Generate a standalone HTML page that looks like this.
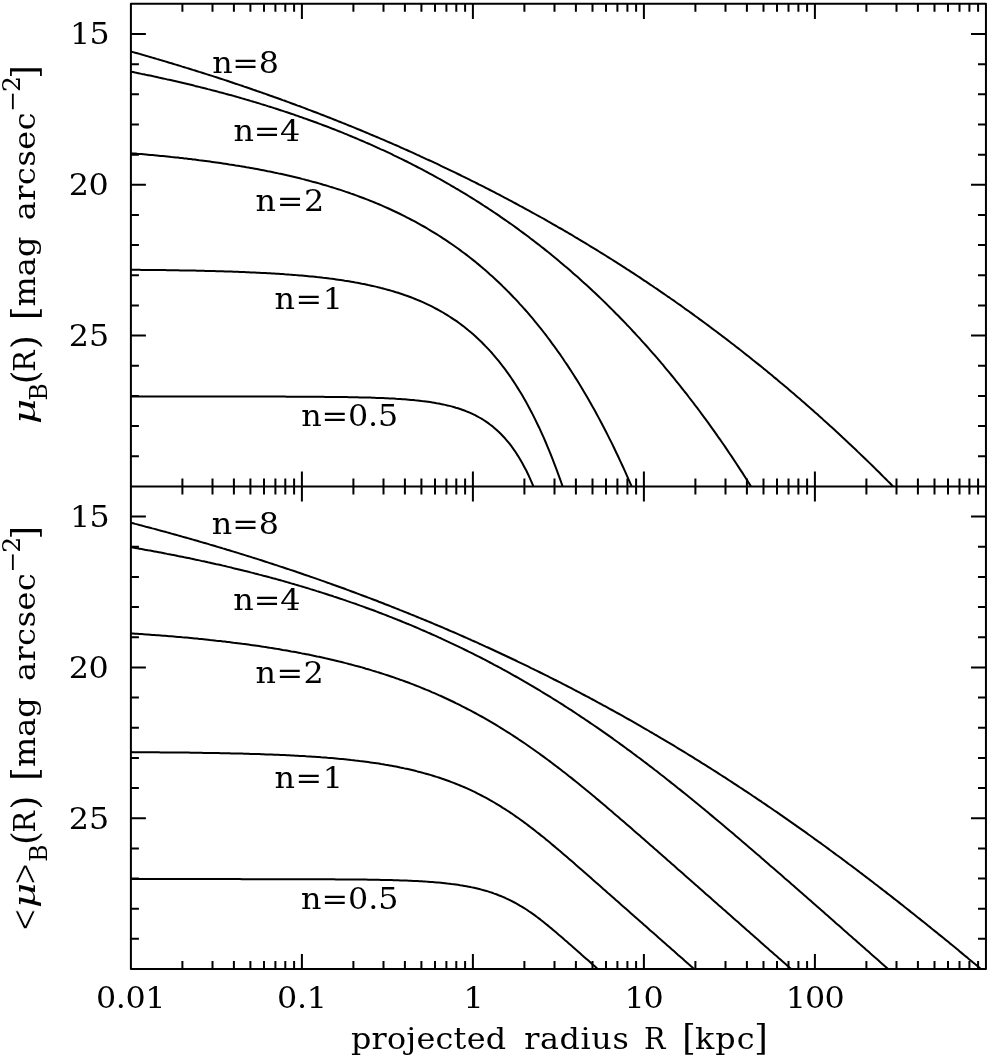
<!DOCTYPE html>
<html><head><meta charset="utf-8"><title>Sersic surface brightness profiles</title>
<style>
html,body{margin:0;padding:0;background:#fff}
svg{display:block}
text{font-family:"DejaVu Serif","Liberation Serif",serif;fill:#000;font-size:30px}.i{font-style:italic}.s{font-size:23.5px}.p{font-size:35.5px}.b{font-size:34.5px}.a{stroke:#fff;stroke-width:.7px}
</style></head>
<body>
<svg width="990" height="1060" viewBox="0 0 990 1060">
<rect width="990" height="1060" fill="#fff"/>
<g fill="none" stroke="#000" stroke-width="2" stroke-linecap="butt" stroke-linejoin="round">
<rect x="130.9" y="3.85" width="855.0500000000001" height="965.2"/>
<path d="M130.9 486.45 H985.95"/>
<path d="M182.4 3.9 V11.8 M182.4 478.4 V494.4 M182.4 961.0 V969.0 M212.5 3.9 V11.8 M212.5 478.4 V494.4 M212.5 961.0 V969.0 M233.9 3.9 V11.8 M233.9 478.4 V494.4 M233.9 961.0 V969.0 M250.4 3.9 V11.8 M250.4 478.4 V494.4 M250.4 961.0 V969.0 M264.0 3.9 V11.8 M264.0 478.4 V494.4 M264.0 961.0 V969.0 M275.4 3.9 V11.8 M275.4 478.4 V494.4 M275.4 961.0 V969.0 M285.3 3.9 V11.8 M285.3 478.4 V494.4 M285.3 961.0 V969.0 M294.1 3.9 V11.8 M294.1 478.4 V494.4 M294.1 961.0 V969.0 M301.9 3.9 V18.9 M301.9 471.4 V501.4 M301.9 954.0 V969.0 M353.4 3.9 V11.8 M353.4 478.4 V494.4 M353.4 961.0 V969.0 M383.5 3.9 V11.8 M383.5 478.4 V494.4 M383.5 961.0 V969.0 M404.9 3.9 V11.8 M404.9 478.4 V494.4 M404.9 961.0 V969.0 M421.4 3.9 V11.8 M421.4 478.4 V494.4 M421.4 961.0 V969.0 M435.0 3.9 V11.8 M435.0 478.4 V494.4 M435.0 961.0 V969.0 M446.4 3.9 V11.8 M446.4 478.4 V494.4 M446.4 961.0 V969.0 M456.3 3.9 V11.8 M456.3 478.4 V494.4 M456.3 961.0 V969.0 M465.1 3.9 V11.8 M465.1 478.4 V494.4 M465.1 961.0 V969.0 M472.9 3.9 V18.9 M472.9 471.4 V501.4 M472.9 954.0 V969.0 M524.4 3.9 V11.8 M524.4 478.4 V494.4 M524.4 961.0 V969.0 M554.5 3.9 V11.8 M554.5 478.4 V494.4 M554.5 961.0 V969.0 M575.9 3.9 V11.8 M575.9 478.4 V494.4 M575.9 961.0 V969.0 M592.5 3.9 V11.8 M592.5 478.4 V494.4 M592.5 961.0 V969.0 M606.0 3.9 V11.8 M606.0 478.4 V494.4 M606.0 961.0 V969.0 M617.4 3.9 V11.8 M617.4 478.4 V494.4 M617.4 961.0 V969.0 M627.4 3.9 V11.8 M627.4 478.4 V494.4 M627.4 961.0 V969.0 M636.1 3.9 V11.8 M636.1 478.4 V494.4 M636.1 961.0 V969.0 M643.9 3.9 V18.9 M643.9 471.4 V501.4 M643.9 954.0 V969.0 M695.4 3.9 V11.8 M695.4 478.4 V494.4 M695.4 961.0 V969.0 M725.5 3.9 V11.8 M725.5 478.4 V494.4 M725.5 961.0 V969.0 M746.9 3.9 V11.8 M746.9 478.4 V494.4 M746.9 961.0 V969.0 M763.5 3.9 V11.8 M763.5 478.4 V494.4 M763.5 961.0 V969.0 M777.0 3.9 V11.8 M777.0 478.4 V494.4 M777.0 961.0 V969.0 M788.5 3.9 V11.8 M788.5 478.4 V494.4 M788.5 961.0 V969.0 M798.4 3.9 V11.8 M798.4 478.4 V494.4 M798.4 961.0 V969.0 M807.1 3.9 V11.8 M807.1 478.4 V494.4 M807.1 961.0 V969.0 M814.9 3.9 V18.9 M814.9 471.4 V501.4 M814.9 954.0 V969.0 M866.4 3.9 V11.8 M866.4 478.4 V494.4 M866.4 961.0 V969.0 M896.5 3.9 V11.8 M896.5 478.4 V494.4 M896.5 961.0 V969.0 M917.9 3.9 V11.8 M917.9 478.4 V494.4 M917.9 961.0 V969.0 M934.5 3.9 V11.8 M934.5 478.4 V494.4 M934.5 961.0 V969.0 M948.0 3.9 V11.8 M948.0 478.4 V494.4 M948.0 961.0 V969.0 M959.5 3.9 V11.8 M959.5 478.4 V494.4 M959.5 961.0 V969.0 M969.4 3.9 V11.8 M969.4 478.4 V494.4 M969.4 961.0 V969.0 M978.1 3.9 V11.8 M978.1 478.4 V494.4 M978.1 961.0 V969.0 M130.9 34.0 H145.9 M971.0 34.0 H986.0 M130.9 64.2 H138.9 M978.0 64.2 H986.0 M130.9 94.3 H138.9 M978.0 94.3 H986.0 M130.9 124.5 H138.9 M978.0 124.5 H986.0 M130.9 154.7 H138.9 M978.0 154.7 H986.0 M130.9 184.8 H145.9 M971.0 184.8 H986.0 M130.9 215.0 H138.9 M978.0 215.0 H986.0 M130.9 245.1 H138.9 M978.0 245.1 H986.0 M130.9 275.3 H138.9 M978.0 275.3 H986.0 M130.9 305.5 H138.9 M978.0 305.5 H986.0 M130.9 335.6 H145.9 M971.0 335.6 H986.0 M130.9 365.8 H138.9 M978.0 365.8 H986.0 M130.9 395.9 H138.9 M978.0 395.9 H986.0 M130.9 426.1 H138.9 M978.0 426.1 H986.0 M130.9 456.2 H138.9 M978.0 456.2 H986.0 M130.9 516.6 H145.9 M971.0 516.6 H986.0 M130.9 546.8 H138.9 M978.0 546.8 H986.0 M130.9 576.9 H138.9 M978.0 576.9 H986.0 M130.9 607.1 H138.9 M978.0 607.1 H986.0 M130.9 637.2 H138.9 M978.0 637.2 H986.0 M130.9 667.4 H145.9 M971.0 667.4 H986.0 M130.9 697.6 H138.9 M978.0 697.6 H986.0 M130.9 727.7 H138.9 M978.0 727.7 H986.0 M130.9 757.9 H138.9 M978.0 757.9 H986.0 M130.9 788.0 H138.9 M978.0 788.0 H986.0 M130.9 818.2 H145.9 M971.0 818.2 H986.0 M130.9 848.4 H138.9 M978.0 848.4 H986.0 M130.9 878.5 H138.9 M978.0 878.5 H986.0 M130.9 908.7 H138.9 M978.0 908.7 H986.0 M130.9 938.8 H138.9 M978.0 938.8 H986.0"/>
</g>
<g fill="none" stroke="#000" stroke-width="2" stroke-linejoin="round">
<path d="M130.9 396.5 L133.0 396.5 L135.2 396.5 L137.3 396.5 L139.5 396.5 L141.6 396.5 L143.7 396.5 L145.9 396.5 L148.0 396.5 L150.1 396.5 L152.3 396.5 L154.4 396.5 L156.6 396.5 L158.7 396.5 L160.8 396.5 L163.0 396.5 L165.1 396.5 L167.2 396.5 L169.4 396.5 L171.5 396.5 L173.7 396.5 L175.8 396.5 L177.9 396.5 L180.1 396.5 L182.2 396.5 L184.3 396.5 L186.5 396.5 L188.6 396.5 L190.8 396.5 L192.9 396.5 L195.0 396.5 L197.2 396.5 L199.3 396.5 L201.4 396.5 L203.6 396.5 L205.7 396.5 L207.9 396.5 L210.0 396.5 L212.1 396.5 L214.3 396.5 L216.4 396.6 L218.5 396.6 L220.7 396.6 L222.8 396.6 L225.0 396.6 L227.1 396.6 L229.2 396.6 L231.4 396.6 L233.5 396.6 L235.6 396.6 L237.8 396.6 L239.9 396.6 L242.1 396.6 L244.2 396.6 L246.3 396.6 L248.5 396.6 L250.6 396.6 L252.7 396.6 L254.9 396.6 L257.0 396.6 L259.2 396.6 L261.3 396.6 L263.4 396.6 L265.6 396.6 L267.7 396.6 L269.8 396.6 L272.0 396.6 L274.1 396.6 L276.3 396.6 L278.4 396.6 L280.5 396.6 L282.7 396.6 L284.8 396.6 L286.9 396.7 L289.1 396.7 L291.2 396.7 L293.4 396.7 L295.5 396.7 L297.6 396.7 L299.8 396.7 L301.9 396.7 L304.0 396.7 L306.2 396.7 L308.3 396.7 L310.5 396.8 L312.6 396.8 L314.7 396.8 L316.9 396.8 L319.0 396.8 L321.1 396.8 L323.3 396.8 L325.4 396.9 L327.6 396.9 L329.7 396.9 L331.8 396.9 L334.0 397.0 L336.1 397.0 L338.2 397.0 L340.4 397.0 L342.5 397.1 L344.7 397.1 L346.8 397.1 L348.9 397.2 L351.1 397.2 L353.2 397.2 L355.4 397.3 L357.5 397.3 L359.6 397.4 L361.8 397.4 L363.9 397.5 L366.0 397.5 L368.2 397.6 L370.3 397.6 L372.5 397.7 L374.6 397.8 L376.7 397.9 L378.9 397.9 L381.0 398.0 L383.1 398.1 L385.3 398.2 L387.4 398.3 L389.6 398.4 L391.7 398.5 L393.8 398.6 L396.0 398.8 L398.1 398.9 L400.2 399.0 L402.4 399.2 L404.5 399.3 L406.7 399.5 L408.8 399.7 L410.9 399.9 L413.1 400.0 L415.2 400.3 L417.3 400.5 L419.5 400.7 L421.6 401.0 L423.8 401.2 L425.9 401.5 L428.0 401.8 L430.2 402.1 L432.3 402.4 L434.4 402.8 L436.6 403.2 L438.7 403.5 L440.9 404.0 L443.0 404.4 L445.1 404.9 L447.3 405.4 L449.4 405.9 L451.5 406.4 L453.7 407.0 L455.8 407.7 L458.0 408.3 L460.1 409.0 L462.2 409.7 L464.4 410.5 L466.5 411.4 L468.6 412.2 L470.8 413.2 L472.9 414.2 L475.1 415.2 L477.2 416.3 L479.3 417.5 L481.5 418.7 L483.6 420.0 L485.7 421.4 L487.9 422.9 L490.0 424.5 L492.2 426.1 L494.3 427.9 L496.4 429.7 L498.6 431.7 L500.7 433.8 L502.8 436.0 L505.0 438.3 L507.1 440.8 L509.3 443.4 L511.4 446.2 L513.5 449.1 L515.7 452.3 L517.8 455.6 L519.9 459.1 L522.1 462.8 L524.2 466.7 L526.4 470.8 L528.5 475.2 L530.6 479.9 L532.8 484.9 L533.4 486.4"/>
<path d="M130.9 269.8 L133.0 269.8 L135.2 269.8 L137.3 269.8 L139.5 269.8 L141.6 269.9 L143.7 269.9 L145.9 269.9 L148.0 269.9 L150.1 269.9 L152.3 270.0 L154.4 270.0 L156.6 270.0 L158.7 270.1 L160.8 270.1 L163.0 270.1 L165.1 270.1 L167.2 270.2 L169.4 270.2 L171.5 270.2 L173.7 270.3 L175.8 270.3 L177.9 270.3 L180.1 270.4 L182.2 270.4 L184.3 270.4 L186.5 270.5 L188.6 270.5 L190.8 270.6 L192.9 270.6 L195.0 270.6 L197.2 270.7 L199.3 270.7 L201.4 270.8 L203.6 270.8 L205.7 270.9 L207.9 270.9 L210.0 271.0 L212.1 271.0 L214.3 271.1 L216.4 271.2 L218.5 271.2 L220.7 271.3 L222.8 271.3 L225.0 271.4 L227.1 271.5 L229.2 271.5 L231.4 271.6 L233.5 271.7 L235.6 271.8 L237.8 271.8 L239.9 271.9 L242.1 272.0 L244.2 272.1 L246.3 272.2 L248.5 272.3 L250.6 272.4 L252.7 272.5 L254.9 272.6 L257.0 272.7 L259.2 272.8 L261.3 272.9 L263.4 273.0 L265.6 273.1 L267.7 273.2 L269.8 273.3 L272.0 273.5 L274.1 273.6 L276.3 273.7 L278.4 273.8 L280.5 274.0 L282.7 274.1 L284.8 274.3 L286.9 274.4 L289.1 274.6 L291.2 274.7 L293.4 274.9 L295.5 275.1 L297.6 275.2 L299.8 275.4 L301.9 275.6 L304.0 275.8 L306.2 276.0 L308.3 276.2 L310.5 276.4 L312.6 276.6 L314.7 276.8 L316.9 277.1 L319.0 277.3 L321.1 277.5 L323.3 277.8 L325.4 278.0 L327.6 278.3 L329.7 278.6 L331.8 278.8 L334.0 279.1 L336.1 279.4 L338.2 279.7 L340.4 280.0 L342.5 280.3 L344.7 280.7 L346.8 281.0 L348.9 281.3 L351.1 281.7 L353.2 282.1 L355.4 282.5 L357.5 282.8 L359.6 283.2 L361.8 283.7 L363.9 284.1 L366.0 284.5 L368.2 285.0 L370.3 285.4 L372.5 285.9 L374.6 286.4 L376.7 286.9 L378.9 287.4 L381.0 288.0 L383.1 288.5 L385.3 289.1 L387.4 289.7 L389.6 290.3 L391.7 290.9 L393.8 291.5 L396.0 292.2 L398.1 292.8 L400.2 293.5 L402.4 294.2 L404.5 295.0 L406.7 295.7 L408.8 296.5 L410.9 297.3 L413.1 298.1 L415.2 299.0 L417.3 299.9 L419.5 300.8 L421.6 301.7 L423.8 302.6 L425.9 303.6 L428.0 304.6 L430.2 305.7 L432.3 306.7 L434.4 307.8 L436.6 309.0 L438.7 310.1 L440.9 311.3 L443.0 312.5 L445.1 313.8 L447.3 315.1 L449.4 316.5 L451.5 317.8 L453.7 319.3 L455.8 320.7 L458.0 322.2 L460.1 323.8 L462.2 325.4 L464.4 327.0 L466.5 328.7 L468.6 330.5 L470.8 332.3 L472.9 334.1 L475.1 336.0 L477.2 338.0 L479.3 340.0 L481.5 342.0 L483.6 344.2 L485.7 346.4 L487.9 348.6 L490.0 350.9 L492.2 353.3 L494.3 355.8 L496.4 358.3 L498.6 360.9 L500.7 363.6 L502.8 366.4 L505.0 369.2 L507.1 372.1 L509.3 375.1 L511.4 378.2 L513.5 381.4 L515.7 384.7 L517.8 388.1 L519.9 391.5 L522.1 395.1 L524.2 398.8 L526.4 402.6 L528.5 406.5 L530.6 410.5 L532.8 414.6 L534.9 418.9 L537.0 423.2 L539.2 427.7 L541.3 432.4 L543.5 437.1 L545.6 442.0 L547.7 447.1 L549.9 452.3 L552.0 457.6 L554.1 463.1 L556.3 468.8 L558.4 474.6 L560.6 480.6 L562.6 486.4"/>
<path d="M130.9 153.2 L133.0 153.4 L135.2 153.6 L137.3 153.8 L139.5 153.9 L141.6 154.1 L143.7 154.3 L145.9 154.5 L148.0 154.7 L150.1 154.9 L152.3 155.1 L154.4 155.3 L156.6 155.5 L158.7 155.7 L160.8 155.9 L163.0 156.1 L165.1 156.3 L167.2 156.5 L169.4 156.7 L171.5 157.0 L173.7 157.2 L175.8 157.4 L177.9 157.6 L180.1 157.9 L182.2 158.1 L184.3 158.4 L186.5 158.6 L188.6 158.9 L190.8 159.1 L192.9 159.4 L195.0 159.6 L197.2 159.9 L199.3 160.2 L201.4 160.4 L203.6 160.7 L205.7 161.0 L207.9 161.3 L210.0 161.6 L212.1 161.9 L214.3 162.2 L216.4 162.5 L218.5 162.8 L220.7 163.1 L222.8 163.4 L225.0 163.7 L227.1 164.0 L229.2 164.4 L231.4 164.7 L233.5 165.0 L235.6 165.4 L237.8 165.7 L239.9 166.1 L242.1 166.4 L244.2 166.8 L246.3 167.2 L248.5 167.5 L250.6 167.9 L252.7 168.3 L254.9 168.7 L257.0 169.1 L259.2 169.5 L261.3 169.9 L263.4 170.3 L265.6 170.7 L267.7 171.2 L269.8 171.6 L272.0 172.0 L274.1 172.5 L276.3 172.9 L278.4 173.4 L280.5 173.8 L282.7 174.3 L284.8 174.8 L286.9 175.3 L289.1 175.8 L291.2 176.3 L293.4 176.8 L295.5 177.3 L297.6 177.8 L299.8 178.3 L301.9 178.9 L304.0 179.4 L306.2 180.0 L308.3 180.5 L310.5 181.1 L312.6 181.7 L314.7 182.2 L316.9 182.8 L319.0 183.4 L321.1 184.0 L323.3 184.7 L325.4 185.3 L327.6 185.9 L329.7 186.6 L331.8 187.2 L334.0 187.9 L336.1 188.6 L338.2 189.3 L340.4 189.9 L342.5 190.6 L344.7 191.4 L346.8 192.1 L348.9 192.8 L351.1 193.6 L353.2 194.3 L355.4 195.1 L357.5 195.9 L359.6 196.7 L361.8 197.5 L363.9 198.3 L366.0 199.1 L368.2 199.9 L370.3 200.8 L372.5 201.6 L374.6 202.5 L376.7 203.4 L378.9 204.3 L381.0 205.2 L383.1 206.1 L385.3 207.1 L387.4 208.0 L389.6 209.0 L391.7 210.0 L393.8 211.0 L396.0 212.0 L398.1 213.0 L400.2 214.0 L402.4 215.1 L404.5 216.2 L406.7 217.3 L408.8 218.4 L410.9 219.5 L413.1 220.6 L415.2 221.7 L417.3 222.9 L419.5 224.1 L421.6 225.3 L423.8 226.5 L425.9 227.7 L428.0 229.0 L430.2 230.3 L432.3 231.6 L434.4 232.9 L436.6 234.2 L438.7 235.5 L440.9 236.9 L443.0 238.3 L445.1 239.7 L447.3 241.1 L449.4 242.6 L451.5 244.0 L453.7 245.5 L455.8 247.0 L458.0 248.5 L460.1 250.1 L462.2 251.7 L464.4 253.3 L466.5 254.9 L468.6 256.5 L470.8 258.2 L472.9 259.9 L475.1 261.6 L477.2 263.4 L479.3 265.1 L481.5 266.9 L483.6 268.8 L485.7 270.6 L487.9 272.5 L490.0 274.4 L492.2 276.3 L494.3 278.3 L496.4 280.2 L498.6 282.3 L500.7 284.3 L502.8 286.4 L505.0 288.5 L507.1 290.6 L509.3 292.8 L511.4 295.0 L513.5 297.2 L515.7 299.4 L517.8 301.7 L519.9 304.1 L522.1 306.4 L524.2 308.8 L526.4 311.2 L528.5 313.7 L530.6 316.2 L532.8 318.7 L534.9 321.3 L537.0 323.9 L539.2 326.6 L541.3 329.2 L543.5 332.0 L545.6 334.7 L547.7 337.5 L549.9 340.4 L552.0 343.3 L554.1 346.2 L556.3 349.1 L558.4 352.2 L560.6 355.2 L562.7 358.3 L564.8 361.5 L567.0 364.6 L569.1 367.9 L571.3 371.2 L573.4 374.5 L575.5 377.9 L577.7 381.3 L579.8 384.8 L581.9 388.3 L584.1 391.9 L586.2 395.5 L588.4 399.2 L590.5 402.9 L592.6 406.7 L594.8 410.6 L596.9 414.5 L599.0 418.4 L601.2 422.5 L603.3 426.5 L605.5 430.7 L607.6 434.9 L609.7 439.1 L611.9 443.4 L614.0 447.8 L616.1 452.2 L618.3 456.8 L620.4 461.3 L622.6 466.0 L624.7 470.7 L626.8 475.4 L629.0 480.3 L631.1 485.2 L631.6 486.4"/>
<path d="M130.9 71.7 L133.0 72.1 L135.2 72.6 L137.3 73.0 L139.5 73.4 L141.6 73.9 L143.7 74.3 L145.9 74.8 L148.0 75.2 L150.1 75.6 L152.3 76.1 L154.4 76.6 L156.6 77.0 L158.7 77.5 L160.8 77.9 L163.0 78.4 L165.1 78.9 L167.2 79.4 L169.4 79.8 L171.5 80.3 L173.7 80.8 L175.8 81.3 L177.9 81.8 L180.1 82.3 L182.2 82.8 L184.3 83.3 L186.5 83.8 L188.6 84.3 L190.8 84.8 L192.9 85.3 L195.0 85.9 L197.2 86.4 L199.3 86.9 L201.4 87.5 L203.6 88.0 L205.7 88.5 L207.9 89.1 L210.0 89.6 L212.1 90.2 L214.3 90.7 L216.4 91.3 L218.5 91.9 L220.7 92.4 L222.8 93.0 L225.0 93.6 L227.1 94.2 L229.2 94.8 L231.4 95.3 L233.5 95.9 L235.6 96.5 L237.8 97.1 L239.9 97.7 L242.1 98.4 L244.2 99.0 L246.3 99.6 L248.5 100.2 L250.6 100.9 L252.7 101.5 L254.9 102.1 L257.0 102.8 L259.2 103.4 L261.3 104.1 L263.4 104.7 L265.6 105.4 L267.7 106.1 L269.8 106.7 L272.0 107.4 L274.1 108.1 L276.3 108.8 L278.4 109.5 L280.5 110.2 L282.7 110.9 L284.8 111.6 L286.9 112.3 L289.1 113.0 L291.2 113.7 L293.4 114.4 L295.5 115.2 L297.6 115.9 L299.8 116.7 L301.9 117.4 L304.0 118.2 L306.2 118.9 L308.3 119.7 L310.5 120.5 L312.6 121.2 L314.7 122.0 L316.9 122.8 L319.0 123.6 L321.1 124.4 L323.3 125.2 L325.4 126.0 L327.6 126.8 L329.7 127.6 L331.8 128.5 L334.0 129.3 L336.1 130.1 L338.2 131.0 L340.4 131.8 L342.5 132.7 L344.7 133.6 L346.8 134.4 L348.9 135.3 L351.1 136.2 L353.2 137.1 L355.4 138.0 L357.5 138.9 L359.6 139.8 L361.8 140.7 L363.9 141.6 L366.0 142.6 L368.2 143.5 L370.3 144.4 L372.5 145.4 L374.6 146.3 L376.7 147.3 L378.9 148.3 L381.0 149.3 L383.1 150.2 L385.3 151.2 L387.4 152.2 L389.6 153.2 L391.7 154.2 L393.8 155.3 L396.0 156.3 L398.1 157.3 L400.2 158.4 L402.4 159.4 L404.5 160.5 L406.7 161.5 L408.8 162.6 L410.9 163.7 L413.1 164.8 L415.2 165.9 L417.3 167.0 L419.5 168.1 L421.6 169.2 L423.8 170.3 L425.9 171.5 L428.0 172.6 L430.2 173.8 L432.3 174.9 L434.4 176.1 L436.6 177.3 L438.7 178.5 L440.9 179.7 L443.0 180.9 L445.1 182.1 L447.3 183.3 L449.4 184.5 L451.5 185.8 L453.7 187.0 L455.8 188.3 L458.0 189.5 L460.1 190.8 L462.2 192.1 L464.4 193.4 L466.5 194.7 L468.6 196.0 L470.8 197.3 L472.9 198.7 L475.1 200.0 L477.2 201.3 L479.3 202.7 L481.5 204.1 L483.6 205.5 L485.7 206.8 L487.9 208.2 L490.0 209.7 L492.2 211.1 L494.3 212.5 L496.4 213.9 L498.6 215.4 L500.7 216.9 L502.8 218.3 L505.0 219.8 L507.1 221.3 L509.3 222.8 L511.4 224.3 L513.5 225.8 L515.7 227.4 L517.8 228.9 L519.9 230.5 L522.1 232.1 L524.2 233.6 L526.4 235.2 L528.5 236.8 L530.6 238.5 L532.8 240.1 L534.9 241.7 L537.0 243.4 L539.2 245.0 L541.3 246.7 L543.5 248.4 L545.6 250.1 L547.7 251.8 L549.9 253.5 L552.0 255.3 L554.1 257.0 L556.3 258.8 L558.4 260.6 L560.6 262.4 L562.7 264.2 L564.8 266.0 L567.0 267.8 L569.1 269.6 L571.3 271.5 L573.4 273.4 L575.5 275.2 L577.7 277.1 L579.8 279.0 L581.9 281.0 L584.1 282.9 L586.2 284.8 L588.4 286.8 L590.5 288.8 L592.6 290.8 L594.8 292.8 L596.9 294.8 L599.0 296.8 L601.2 298.9 L603.3 300.9 L605.5 303.0 L607.6 305.1 L609.7 307.2 L611.9 309.4 L614.0 311.5 L616.1 313.7 L618.3 315.8 L620.4 318.0 L622.6 320.2 L624.7 322.4 L626.8 324.7 L629.0 326.9 L631.1 329.2 L633.2 331.5 L635.4 333.8 L637.5 336.1 L639.7 338.4 L641.8 340.8 L643.9 343.1 L646.1 345.5 L648.2 347.9 L650.3 350.3 L652.5 352.8 L654.6 355.2 L656.8 357.7 L658.9 360.2 L661.0 362.7 L663.2 365.2 L665.3 367.8 L667.4 370.3 L669.6 372.9 L671.7 375.5 L673.9 378.1 L676.0 380.8 L678.1 383.4 L680.3 386.1 L682.4 388.8 L684.5 391.5 L686.7 394.2 L688.8 397.0 L691.0 399.8 L693.1 402.5 L695.2 405.4 L697.4 408.2 L699.5 411.0 L701.6 413.9 L703.8 416.8 L705.9 419.7 L708.1 422.7 L710.2 425.6 L712.3 428.6 L714.5 431.6 L716.6 434.6 L718.7 437.7 L720.9 440.7 L723.0 443.8 L725.2 446.9 L727.3 450.1 L729.4 453.2 L731.6 456.4 L733.7 459.6 L735.8 462.8 L738.0 466.1 L740.1 469.4 L742.3 472.6 L744.4 476.0 L746.5 479.3 L748.7 482.7 L750.8 486.1 L751.0 486.4"/>
<path d="M130.9 51.5 L133.0 52.1 L135.2 52.7 L137.3 53.3 L139.5 53.9 L141.6 54.5 L143.7 55.1 L145.9 55.8 L148.0 56.4 L150.1 57.0 L152.3 57.6 L154.4 58.2 L156.6 58.9 L158.7 59.5 L160.8 60.1 L163.0 60.8 L165.1 61.4 L167.2 62.0 L169.4 62.7 L171.5 63.3 L173.7 64.0 L175.8 64.6 L177.9 65.2 L180.1 65.9 L182.2 66.6 L184.3 67.2 L186.5 67.9 L188.6 68.5 L190.8 69.2 L192.9 69.9 L195.0 70.5 L197.2 71.2 L199.3 71.9 L201.4 72.5 L203.6 73.2 L205.7 73.9 L207.9 74.6 L210.0 75.3 L212.1 75.9 L214.3 76.6 L216.4 77.3 L218.5 78.0 L220.7 78.7 L222.8 79.4 L225.0 80.1 L227.1 80.8 L229.2 81.5 L231.4 82.2 L233.5 83.0 L235.6 83.7 L237.8 84.4 L239.9 85.1 L242.1 85.8 L244.2 86.6 L246.3 87.3 L248.5 88.0 L250.6 88.7 L252.7 89.5 L254.9 90.2 L257.0 91.0 L259.2 91.7 L261.3 92.4 L263.4 93.2 L265.6 93.9 L267.7 94.7 L269.8 95.5 L272.0 96.2 L274.1 97.0 L276.3 97.7 L278.4 98.5 L280.5 99.3 L282.7 100.1 L284.8 100.8 L286.9 101.6 L289.1 102.4 L291.2 103.2 L293.4 104.0 L295.5 104.8 L297.6 105.6 L299.8 106.3 L301.9 107.1 L304.0 107.9 L306.2 108.8 L308.3 109.6 L310.5 110.4 L312.6 111.2 L314.7 112.0 L316.9 112.8 L319.0 113.6 L321.1 114.5 L323.3 115.3 L325.4 116.1 L327.6 117.0 L329.7 117.8 L331.8 118.6 L334.0 119.5 L336.1 120.3 L338.2 121.2 L340.4 122.0 L342.5 122.9 L344.7 123.7 L346.8 124.6 L348.9 125.5 L351.1 126.3 L353.2 127.2 L355.4 128.1 L357.5 129.0 L359.6 129.8 L361.8 130.7 L363.9 131.6 L366.0 132.5 L368.2 133.4 L370.3 134.3 L372.5 135.2 L374.6 136.1 L376.7 137.0 L378.9 137.9 L381.0 138.8 L383.1 139.7 L385.3 140.7 L387.4 141.6 L389.6 142.5 L391.7 143.4 L393.8 144.4 L396.0 145.3 L398.1 146.2 L400.2 147.2 L402.4 148.1 L404.5 149.1 L406.7 150.0 L408.8 151.0 L410.9 151.9 L413.1 152.9 L415.2 153.9 L417.3 154.9 L419.5 155.8 L421.6 156.8 L423.8 157.8 L425.9 158.8 L428.0 159.8 L430.2 160.7 L432.3 161.7 L434.4 162.7 L436.6 163.7 L438.7 164.7 L440.9 165.8 L443.0 166.8 L445.1 167.8 L447.3 168.8 L449.4 169.8 L451.5 170.9 L453.7 171.9 L455.8 172.9 L458.0 174.0 L460.1 175.0 L462.2 176.1 L464.4 177.1 L466.5 178.2 L468.6 179.2 L470.8 180.3 L472.9 181.3 L475.1 182.4 L477.2 183.5 L479.3 184.6 L481.5 185.6 L483.6 186.7 L485.7 187.8 L487.9 188.9 L490.0 190.0 L492.2 191.1 L494.3 192.2 L496.4 193.3 L498.6 194.4 L500.7 195.5 L502.8 196.7 L505.0 197.8 L507.1 198.9 L509.3 200.1 L511.4 201.2 L513.5 202.3 L515.7 203.5 L517.8 204.6 L519.9 205.8 L522.1 206.9 L524.2 208.1 L526.4 209.3 L528.5 210.4 L530.6 211.6 L532.8 212.8 L534.9 214.0 L537.0 215.2 L539.2 216.3 L541.3 217.5 L543.5 218.7 L545.6 219.9 L547.7 221.2 L549.9 222.4 L552.0 223.6 L554.1 224.8 L556.3 226.0 L558.4 227.3 L560.6 228.5 L562.7 229.7 L564.8 231.0 L567.0 232.2 L569.1 233.5 L571.3 234.7 L573.4 236.0 L575.5 237.3 L577.7 238.5 L579.8 239.8 L581.9 241.1 L584.1 242.4 L586.2 243.7 L588.4 245.0 L590.5 246.3 L592.6 247.6 L594.8 248.9 L596.9 250.2 L599.0 251.5 L601.2 252.8 L603.3 254.1 L605.5 255.5 L607.6 256.8 L609.7 258.2 L611.9 259.5 L614.0 260.8 L616.1 262.2 L618.3 263.6 L620.4 264.9 L622.6 266.3 L624.7 267.7 L626.8 269.1 L629.0 270.4 L631.1 271.8 L633.2 273.2 L635.4 274.6 L637.5 276.0 L639.7 277.4 L641.8 278.9 L643.9 280.3 L646.1 281.7 L648.2 283.1 L650.3 284.6 L652.5 286.0 L654.6 287.5 L656.8 288.9 L658.9 290.4 L661.0 291.8 L663.2 293.3 L665.3 294.8 L667.4 296.3 L669.6 297.7 L671.7 299.2 L673.9 300.7 L676.0 302.2 L678.1 303.7 L680.3 305.2 L682.4 306.7 L684.5 308.3 L686.7 309.8 L688.8 311.3 L691.0 312.9 L693.1 314.4 L695.2 316.0 L697.4 317.5 L699.5 319.1 L701.6 320.6 L703.8 322.2 L705.9 323.8 L708.1 325.4 L710.2 327.0 L712.3 328.6 L714.5 330.2 L716.6 331.8 L718.7 333.4 L720.9 335.0 L723.0 336.6 L725.2 338.2 L727.3 339.9 L729.4 341.5 L731.6 343.2 L733.7 344.8 L735.8 346.5 L738.0 348.1 L740.1 349.8 L742.3 351.5 L744.4 353.2 L746.5 354.9 L748.7 356.5 L750.8 358.2 L752.9 360.0 L755.1 361.7 L757.2 363.4 L759.4 365.1 L761.5 366.8 L763.6 368.6 L765.8 370.3 L767.9 372.1 L770.0 373.8 L772.2 375.6 L774.3 377.4 L776.5 379.1 L778.6 380.9 L780.7 382.7 L782.9 384.5 L785.0 386.3 L787.2 388.1 L789.3 389.9 L791.4 391.8 L793.6 393.6 L795.7 395.4 L797.8 397.3 L800.0 399.1 L802.1 401.0 L804.3 402.8 L806.4 404.7 L808.5 406.6 L810.7 408.4 L812.8 410.3 L814.9 412.2 L817.1 414.1 L819.2 416.0 L821.4 417.9 L823.5 419.9 L825.6 421.8 L827.8 423.7 L829.9 425.7 L832.0 427.6 L834.2 429.6 L836.3 431.5 L838.5 433.5 L840.6 435.5 L842.7 437.5 L844.9 439.5 L847.0 441.5 L849.1 443.5 L851.3 445.5 L853.4 447.5 L855.6 449.5 L857.7 451.6 L859.8 453.6 L862.0 455.7 L864.1 457.7 L866.2 459.8 L868.4 461.9 L870.5 463.9 L872.7 466.0 L874.8 468.1 L876.9 470.2 L879.1 472.3 L881.2 474.5 L883.3 476.6 L885.5 478.7 L887.6 480.9 L889.8 483.0 L891.9 485.2 L893.1 486.4"/>
<path d="M130.9 879.1 L133.0 879.1 L135.2 879.1 L137.3 879.1 L139.5 879.1 L141.6 879.1 L143.7 879.1 L145.9 879.1 L148.0 879.1 L150.1 879.1 L152.3 879.1 L154.4 879.1 L156.6 879.1 L158.7 879.1 L160.8 879.1 L163.0 879.1 L165.1 879.1 L167.2 879.1 L169.4 879.1 L171.5 879.1 L173.7 879.1 L175.8 879.1 L177.9 879.1 L180.1 879.1 L182.2 879.1 L184.3 879.1 L186.5 879.1 L188.6 879.1 L190.8 879.1 L192.9 879.1 L195.0 879.1 L197.2 879.1 L199.3 879.1 L201.4 879.1 L203.6 879.1 L205.7 879.1 L207.9 879.1 L210.0 879.1 L212.1 879.1 L214.3 879.1 L216.4 879.1 L218.5 879.1 L220.7 879.1 L222.8 879.1 L225.0 879.1 L227.1 879.1 L229.2 879.1 L231.4 879.1 L233.5 879.1 L235.6 879.1 L237.8 879.1 L239.9 879.1 L242.1 879.2 L244.2 879.2 L246.3 879.2 L248.5 879.2 L250.6 879.2 L252.7 879.2 L254.9 879.2 L257.0 879.2 L259.2 879.2 L261.3 879.2 L263.4 879.2 L265.6 879.2 L267.7 879.2 L269.8 879.2 L272.0 879.2 L274.1 879.2 L276.3 879.2 L278.4 879.2 L280.5 879.2 L282.7 879.2 L284.8 879.2 L286.9 879.2 L289.1 879.2 L291.2 879.2 L293.4 879.2 L295.5 879.2 L297.6 879.2 L299.8 879.2 L301.9 879.2 L304.0 879.2 L306.2 879.2 L308.3 879.2 L310.5 879.2 L312.6 879.3 L314.7 879.3 L316.9 879.3 L319.0 879.3 L321.1 879.3 L323.3 879.3 L325.4 879.3 L327.6 879.3 L329.7 879.3 L331.8 879.3 L334.0 879.3 L336.1 879.4 L338.2 879.4 L340.4 879.4 L342.5 879.4 L344.7 879.4 L346.8 879.4 L348.9 879.4 L351.1 879.5 L353.2 879.5 L355.4 879.5 L357.5 879.5 L359.6 879.5 L361.8 879.6 L363.9 879.6 L366.0 879.6 L368.2 879.7 L370.3 879.7 L372.5 879.7 L374.6 879.8 L376.7 879.8 L378.9 879.8 L381.0 879.9 L383.1 879.9 L385.3 880.0 L387.4 880.0 L389.6 880.1 L391.7 880.1 L393.8 880.2 L396.0 880.2 L398.1 880.3 L400.2 880.4 L402.4 880.4 L404.5 880.5 L406.7 880.6 L408.8 880.7 L410.9 880.8 L413.1 880.9 L415.2 881.0 L417.3 881.1 L419.5 881.2 L421.6 881.3 L423.8 881.4 L425.9 881.6 L428.0 881.7 L430.2 881.9 L432.3 882.0 L434.4 882.2 L436.6 882.4 L438.7 882.6 L440.9 882.8 L443.0 883.0 L445.1 883.2 L447.3 883.5 L449.4 883.7 L451.5 884.0 L453.7 884.2 L455.8 884.5 L458.0 884.8 L460.1 885.2 L462.2 885.5 L464.4 885.9 L466.5 886.3 L468.6 886.7 L470.8 887.1 L472.9 887.6 L475.1 888.0 L477.2 888.5 L479.3 889.0 L481.5 889.6 L483.6 890.2 L485.7 890.8 L487.9 891.4 L490.0 892.1 L492.2 892.8 L494.3 893.6 L496.4 894.3 L498.6 895.2 L500.7 896.0 L502.8 896.9 L505.0 897.8 L507.1 898.8 L509.3 899.8 L511.4 900.9 L513.5 902.0 L515.7 903.1 L517.8 904.3 L519.9 905.6 L522.1 906.8 L524.2 908.2 L526.4 909.5 L528.5 911.0 L530.6 912.4 L532.8 913.9 L534.9 915.4 L537.0 917.0 L539.2 918.6 L541.3 920.3 L543.5 922.0 L545.6 923.7 L547.7 925.4 L549.9 927.2 L552.0 928.9 L554.1 930.7 L556.3 932.6 L558.4 934.4 L560.6 936.2 L562.7 938.1 L564.8 940.0 L567.0 941.8 L569.1 943.7 L571.3 945.6 L573.4 947.4 L575.5 949.3 L577.7 951.2 L579.8 953.1 L581.9 955.0 L584.1 956.9 L586.2 958.7 L588.4 960.6 L590.5 962.5 L592.6 964.4 L594.8 966.3 L596.9 968.2 L597.9 969.0"/>
<path d="M130.9 752.1 L133.0 752.2 L135.2 752.2 L137.3 752.2 L139.5 752.2 L141.6 752.2 L143.7 752.2 L145.9 752.2 L148.0 752.3 L150.1 752.3 L152.3 752.3 L154.4 752.3 L156.6 752.3 L158.7 752.3 L160.8 752.4 L163.0 752.4 L165.1 752.4 L167.2 752.4 L169.4 752.4 L171.5 752.5 L173.7 752.5 L175.8 752.5 L177.9 752.5 L180.1 752.5 L182.2 752.6 L184.3 752.6 L186.5 752.6 L188.6 752.6 L190.8 752.7 L192.9 752.7 L195.0 752.7 L197.2 752.8 L199.3 752.8 L201.4 752.8 L203.6 752.9 L205.7 752.9 L207.9 752.9 L210.0 753.0 L212.1 753.0 L214.3 753.0 L216.4 753.1 L218.5 753.1 L220.7 753.2 L222.8 753.2 L225.0 753.2 L227.1 753.3 L229.2 753.3 L231.4 753.4 L233.5 753.4 L235.6 753.5 L237.8 753.5 L239.9 753.6 L242.1 753.6 L244.2 753.7 L246.3 753.7 L248.5 753.8 L250.6 753.9 L252.7 753.9 L254.9 754.0 L257.0 754.1 L259.2 754.1 L261.3 754.2 L263.4 754.3 L265.6 754.4 L267.7 754.4 L269.8 754.5 L272.0 754.6 L274.1 754.7 L276.3 754.8 L278.4 754.8 L280.5 754.9 L282.7 755.0 L284.8 755.1 L286.9 755.2 L289.1 755.3 L291.2 755.4 L293.4 755.5 L295.5 755.7 L297.6 755.8 L299.8 755.9 L301.9 756.0 L304.0 756.1 L306.2 756.3 L308.3 756.4 L310.5 756.5 L312.6 756.7 L314.7 756.8 L316.9 757.0 L319.0 757.1 L321.1 757.3 L323.3 757.4 L325.4 757.6 L327.6 757.8 L329.7 757.9 L331.8 758.1 L334.0 758.3 L336.1 758.5 L338.2 758.7 L340.4 758.9 L342.5 759.1 L344.7 759.3 L346.8 759.5 L348.9 759.7 L351.1 760.0 L353.2 760.2 L355.4 760.5 L357.5 760.7 L359.6 761.0 L361.8 761.2 L363.9 761.5 L366.0 761.8 L368.2 762.1 L370.3 762.4 L372.5 762.7 L374.6 763.0 L376.7 763.3 L378.9 763.6 L381.0 764.0 L383.1 764.3 L385.3 764.7 L387.4 765.0 L389.6 765.4 L391.7 765.8 L393.8 766.2 L396.0 766.6 L398.1 767.0 L400.2 767.5 L402.4 767.9 L404.5 768.4 L406.7 768.8 L408.8 769.3 L410.9 769.8 L413.1 770.3 L415.2 770.8 L417.3 771.4 L419.5 771.9 L421.6 772.5 L423.8 773.1 L425.9 773.7 L428.0 774.3 L430.2 774.9 L432.3 775.5 L434.4 776.2 L436.6 776.9 L438.7 777.5 L440.9 778.3 L443.0 779.0 L445.1 779.7 L447.3 780.5 L449.4 781.3 L451.5 782.1 L453.7 782.9 L455.8 783.7 L458.0 784.6 L460.1 785.5 L462.2 786.4 L464.4 787.3 L466.5 788.2 L468.6 789.2 L470.8 790.2 L472.9 791.2 L475.1 792.2 L477.2 793.3 L479.3 794.4 L481.5 795.5 L483.6 796.6 L485.7 797.7 L487.9 798.9 L490.0 800.1 L492.2 801.3 L494.3 802.5 L496.4 803.8 L498.6 805.1 L500.7 806.4 L502.8 807.8 L505.0 809.1 L507.1 810.5 L509.3 811.9 L511.4 813.3 L513.5 814.8 L515.7 816.3 L517.8 817.8 L519.9 819.3 L522.1 820.8 L524.2 822.4 L526.4 824.0 L528.5 825.6 L530.6 827.2 L532.8 828.9 L534.9 830.5 L537.0 832.2 L539.2 833.9 L541.3 835.6 L543.5 837.3 L545.6 839.1 L547.7 840.8 L549.9 842.6 L552.0 844.4 L554.1 846.1 L556.3 847.9 L558.4 849.8 L560.6 851.6 L562.7 853.4 L564.8 855.2 L567.0 857.1 L569.1 858.9 L571.3 860.8 L573.4 862.6 L575.5 864.5 L577.7 866.4 L579.8 868.2 L581.9 870.1 L584.1 872.0 L586.2 873.8 L588.4 875.7 L590.5 877.6 L592.6 879.5 L594.8 881.4 L596.9 883.2 L599.0 885.1 L601.2 887.0 L603.3 888.9 L605.5 890.8 L607.6 892.7 L609.7 894.5 L611.9 896.4 L614.0 898.3 L616.1 900.2 L618.3 902.1 L620.4 904.0 L622.6 905.9 L624.7 907.7 L626.8 909.6 L629.0 911.5 L631.1 913.4 L633.2 915.3 L635.4 917.2 L637.5 919.1 L639.7 920.9 L641.8 922.8 L643.9 924.7 L646.1 926.6 L648.2 928.5 L650.3 930.4 L652.5 932.2 L654.6 934.1 L656.8 936.0 L658.9 937.9 L661.0 939.8 L663.2 941.7 L665.3 943.6 L667.4 945.4 L669.6 947.3 L671.7 949.2 L673.9 951.1 L676.0 953.0 L678.1 954.9 L680.3 956.8 L682.4 958.6 L684.5 960.5 L686.7 962.4 L688.8 964.3 L691.0 966.2 L693.1 968.1 L694.2 969.0"/>
<path d="M130.9 633.4 L133.0 633.5 L135.2 633.7 L137.3 633.8 L139.5 634.0 L141.6 634.1 L143.7 634.2 L145.9 634.4 L148.0 634.5 L150.1 634.7 L152.3 634.9 L154.4 635.0 L156.6 635.2 L158.7 635.3 L160.8 635.5 L163.0 635.7 L165.1 635.8 L167.2 636.0 L169.4 636.2 L171.5 636.3 L173.7 636.5 L175.8 636.7 L177.9 636.9 L180.1 637.1 L182.2 637.3 L184.3 637.4 L186.5 637.6 L188.6 637.8 L190.8 638.0 L192.9 638.2 L195.0 638.4 L197.2 638.6 L199.3 638.9 L201.4 639.1 L203.6 639.3 L205.7 639.5 L207.9 639.7 L210.0 640.0 L212.1 640.2 L214.3 640.4 L216.4 640.7 L218.5 640.9 L220.7 641.1 L222.8 641.4 L225.0 641.6 L227.1 641.9 L229.2 642.1 L231.4 642.4 L233.5 642.7 L235.6 642.9 L237.8 643.2 L239.9 643.5 L242.1 643.8 L244.2 644.0 L246.3 644.3 L248.5 644.6 L250.6 644.9 L252.7 645.2 L254.9 645.5 L257.0 645.8 L259.2 646.1 L261.3 646.4 L263.4 646.8 L265.6 647.1 L267.7 647.4 L269.8 647.8 L272.0 648.1 L274.1 648.4 L276.3 648.8 L278.4 649.1 L280.5 649.5 L282.7 649.9 L284.8 650.2 L286.9 650.6 L289.1 651.0 L291.2 651.4 L293.4 651.7 L295.5 652.1 L297.6 652.5 L299.8 652.9 L301.9 653.4 L304.0 653.8 L306.2 654.2 L308.3 654.6 L310.5 655.1 L312.6 655.5 L314.7 655.9 L316.9 656.4 L319.0 656.8 L321.1 657.3 L323.3 657.8 L325.4 658.3 L327.6 658.7 L329.7 659.2 L331.8 659.7 L334.0 660.2 L336.1 660.7 L338.2 661.3 L340.4 661.8 L342.5 662.3 L344.7 662.9 L346.8 663.4 L348.9 664.0 L351.1 664.5 L353.2 665.1 L355.4 665.7 L357.5 666.2 L359.6 666.8 L361.8 667.4 L363.9 668.0 L366.0 668.7 L368.2 669.3 L370.3 669.9 L372.5 670.6 L374.6 671.2 L376.7 671.9 L378.9 672.5 L381.0 673.2 L383.1 673.9 L385.3 674.6 L387.4 675.3 L389.6 676.0 L391.7 676.7 L393.8 677.4 L396.0 678.2 L398.1 678.9 L400.2 679.7 L402.4 680.4 L404.5 681.2 L406.7 682.0 L408.8 682.8 L410.9 683.6 L413.1 684.4 L415.2 685.3 L417.3 686.1 L419.5 686.9 L421.6 687.8 L423.8 688.7 L425.9 689.6 L428.0 690.4 L430.2 691.3 L432.3 692.3 L434.4 693.2 L436.6 694.1 L438.7 695.1 L440.9 696.0 L443.0 697.0 L445.1 698.0 L447.3 699.0 L449.4 700.0 L451.5 701.0 L453.7 702.0 L455.8 703.1 L458.0 704.1 L460.1 705.2 L462.2 706.3 L464.4 707.4 L466.5 708.5 L468.6 709.6 L470.8 710.7 L472.9 711.8 L475.1 713.0 L477.2 714.2 L479.3 715.3 L481.5 716.5 L483.6 717.7 L485.7 718.9 L487.9 720.2 L490.0 721.4 L492.2 722.7 L494.3 723.9 L496.4 725.2 L498.6 726.5 L500.7 727.8 L502.8 729.1 L505.0 730.5 L507.1 731.8 L509.3 733.2 L511.4 734.5 L513.5 735.9 L515.7 737.3 L517.8 738.7 L519.9 740.2 L522.1 741.6 L524.2 743.0 L526.4 744.5 L528.5 746.0 L530.6 747.5 L532.8 749.0 L534.9 750.5 L537.0 752.0 L539.2 753.5 L541.3 755.1 L543.5 756.6 L545.6 758.2 L547.7 759.8 L549.9 761.4 L552.0 763.0 L554.1 764.6 L556.3 766.2 L558.4 767.9 L560.6 769.5 L562.7 771.2 L564.8 772.8 L567.0 774.5 L569.1 776.2 L571.3 777.9 L573.4 779.6 L575.5 781.3 L577.7 783.0 L579.8 784.7 L581.9 786.5 L584.1 788.2 L586.2 790.0 L588.4 791.7 L590.5 793.5 L592.6 795.3 L594.8 797.1 L596.9 798.9 L599.0 800.6 L601.2 802.4 L603.3 804.3 L605.5 806.1 L607.6 807.9 L609.7 809.7 L611.9 811.5 L614.0 813.4 L616.1 815.2 L618.3 817.0 L620.4 818.9 L622.6 820.7 L624.7 822.6 L626.8 824.4 L629.0 826.3 L631.1 828.1 L633.2 830.0 L635.4 831.9 L637.5 833.7 L639.7 835.6 L641.8 837.5 L643.9 839.3 L646.1 841.2 L648.2 843.1 L650.3 844.9 L652.5 846.8 L654.6 848.7 L656.8 850.6 L658.9 852.4 L661.0 854.3 L663.2 856.2 L665.3 858.1 L667.4 860.0 L669.6 861.8 L671.7 863.7 L673.9 865.6 L676.0 867.5 L678.1 869.4 L680.3 871.3 L682.4 873.1 L684.5 875.0 L686.7 876.9 L688.8 878.8 L691.0 880.7 L693.1 882.6 L695.2 884.4 L697.4 886.3 L699.5 888.2 L701.6 890.1 L703.8 892.0 L705.9 893.9 L708.1 895.8 L710.2 897.6 L712.3 899.5 L714.5 901.4 L716.6 903.3 L718.7 905.2 L720.9 907.1 L723.0 909.0 L725.2 910.8 L727.3 912.7 L729.4 914.6 L731.6 916.5 L733.7 918.4 L735.8 920.3 L738.0 922.1 L740.1 924.0 L742.3 925.9 L744.4 927.8 L746.5 929.7 L748.7 931.6 L750.8 933.5 L752.9 935.3 L755.1 937.2 L757.2 939.1 L759.4 941.0 L761.5 942.9 L763.6 944.8 L765.8 946.7 L767.9 948.5 L770.0 950.4 L772.2 952.3 L774.3 954.2 L776.5 956.1 L778.6 958.0 L780.7 959.8 L782.9 961.7 L785.0 963.6 L787.2 965.5 L789.3 967.4 L791.1 969.0"/>
<path d="M130.9 547.2 L133.0 547.6 L135.2 548.0 L137.3 548.3 L139.5 548.7 L141.6 549.1 L143.7 549.5 L145.9 549.9 L148.0 550.3 L150.1 550.6 L152.3 551.0 L154.4 551.4 L156.6 551.8 L158.7 552.2 L160.8 552.6 L163.0 553.0 L165.1 553.4 L167.2 553.9 L169.4 554.3 L171.5 554.7 L173.7 555.1 L175.8 555.5 L177.9 556.0 L180.1 556.4 L182.2 556.8 L184.3 557.3 L186.5 557.7 L188.6 558.1 L190.8 558.6 L192.9 559.0 L195.0 559.5 L197.2 559.9 L199.3 560.4 L201.4 560.9 L203.6 561.3 L205.7 561.8 L207.9 562.3 L210.0 562.7 L212.1 563.2 L214.3 563.7 L216.4 564.2 L218.5 564.6 L220.7 565.1 L222.8 565.6 L225.0 566.1 L227.1 566.6 L229.2 567.1 L231.4 567.6 L233.5 568.2 L235.6 568.7 L237.8 569.2 L239.9 569.7 L242.1 570.2 L244.2 570.8 L246.3 571.3 L248.5 571.8 L250.6 572.4 L252.7 572.9 L254.9 573.5 L257.0 574.0 L259.2 574.6 L261.3 575.1 L263.4 575.7 L265.6 576.2 L267.7 576.8 L269.8 577.4 L272.0 578.0 L274.1 578.6 L276.3 579.1 L278.4 579.7 L280.5 580.3 L282.7 580.9 L284.8 581.5 L286.9 582.1 L289.1 582.7 L291.2 583.4 L293.4 584.0 L295.5 584.6 L297.6 585.2 L299.8 585.9 L301.9 586.5 L304.0 587.1 L306.2 587.8 L308.3 588.4 L310.5 589.1 L312.6 589.7 L314.7 590.4 L316.9 591.1 L319.0 591.7 L321.1 592.4 L323.3 593.1 L325.4 593.8 L327.6 594.5 L329.7 595.2 L331.8 595.8 L334.0 596.6 L336.1 597.3 L338.2 598.0 L340.4 598.7 L342.5 599.4 L344.7 600.1 L346.8 600.9 L348.9 601.6 L351.1 602.4 L353.2 603.1 L355.4 603.8 L357.5 604.6 L359.6 605.4 L361.8 606.1 L363.9 606.9 L366.0 607.7 L368.2 608.5 L370.3 609.3 L372.5 610.0 L374.6 610.8 L376.7 611.6 L378.9 612.5 L381.0 613.3 L383.1 614.1 L385.3 614.9 L387.4 615.7 L389.6 616.6 L391.7 617.4 L393.8 618.3 L396.0 619.1 L398.1 620.0 L400.2 620.8 L402.4 621.7 L404.5 622.6 L406.7 623.5 L408.8 624.3 L410.9 625.2 L413.1 626.1 L415.2 627.0 L417.3 627.9 L419.5 628.9 L421.6 629.8 L423.8 630.7 L425.9 631.6 L428.0 632.6 L430.2 633.5 L432.3 634.5 L434.4 635.4 L436.6 636.4 L438.7 637.4 L440.9 638.3 L443.0 639.3 L445.1 640.3 L447.3 641.3 L449.4 642.3 L451.5 643.3 L453.7 644.3 L455.8 645.3 L458.0 646.3 L460.1 647.4 L462.2 648.4 L464.4 649.5 L466.5 650.5 L468.6 651.6 L470.8 652.6 L472.9 653.7 L475.1 654.8 L477.2 655.9 L479.3 656.9 L481.5 658.0 L483.6 659.1 L485.7 660.2 L487.9 661.4 L490.0 662.5 L492.2 663.6 L494.3 664.8 L496.4 665.9 L498.6 667.0 L500.7 668.2 L502.8 669.4 L505.0 670.5 L507.1 671.7 L509.3 672.9 L511.4 674.1 L513.5 675.3 L515.7 676.5 L517.8 677.7 L519.9 678.9 L522.1 680.1 L524.2 681.4 L526.4 682.6 L528.5 683.9 L530.6 685.1 L532.8 686.4 L534.9 687.6 L537.0 688.9 L539.2 690.2 L541.3 691.5 L543.5 692.8 L545.6 694.1 L547.7 695.4 L549.9 696.7 L552.0 698.0 L554.1 699.4 L556.3 700.7 L558.4 702.0 L560.6 703.4 L562.7 704.7 L564.8 706.1 L567.0 707.5 L569.1 708.9 L571.3 710.2 L573.4 711.6 L575.5 713.0 L577.7 714.5 L579.8 715.9 L581.9 717.3 L584.1 718.7 L586.2 720.2 L588.4 721.6 L590.5 723.1 L592.6 724.5 L594.8 726.0 L596.9 727.4 L599.0 728.9 L601.2 730.4 L603.3 731.9 L605.5 733.4 L607.6 734.9 L609.7 736.4 L611.9 737.9 L614.0 739.5 L616.1 741.0 L618.3 742.5 L620.4 744.1 L622.6 745.6 L624.7 747.2 L626.8 748.8 L629.0 750.3 L631.1 751.9 L633.2 753.5 L635.4 755.1 L637.5 756.7 L639.7 758.3 L641.8 759.9 L643.9 761.5 L646.1 763.1 L648.2 764.8 L650.3 766.4 L652.5 768.0 L654.6 769.7 L656.8 771.3 L658.9 773.0 L661.0 774.7 L663.2 776.3 L665.3 778.0 L667.4 779.7 L669.6 781.4 L671.7 783.1 L673.9 784.8 L676.0 786.5 L678.1 788.2 L680.3 789.9 L682.4 791.6 L684.5 793.3 L686.7 795.1 L688.8 796.8 L691.0 798.5 L693.1 800.3 L695.2 802.0 L697.4 803.8 L699.5 805.5 L701.6 807.3 L703.8 809.0 L705.9 810.8 L708.1 812.6 L710.2 814.4 L712.3 816.1 L714.5 817.9 L716.6 819.7 L718.7 821.5 L720.9 823.3 L723.0 825.1 L725.2 826.9 L727.3 828.7 L729.4 830.5 L731.6 832.3 L733.7 834.1 L735.8 835.9 L738.0 837.8 L740.1 839.6 L742.3 841.4 L744.4 843.2 L746.5 845.1 L748.7 846.9 L750.8 848.7 L752.9 850.6 L755.1 852.4 L757.2 854.3 L759.4 856.1 L761.5 858.0 L763.6 859.8 L765.8 861.7 L767.9 863.5 L770.0 865.4 L772.2 867.2 L774.3 869.1 L776.5 870.9 L778.6 872.8 L780.7 874.6 L782.9 876.5 L785.0 878.4 L787.2 880.2 L789.3 882.1 L791.4 884.0 L793.6 885.8 L795.7 887.7 L797.8 889.6 L800.0 891.5 L802.1 893.3 L804.3 895.2 L806.4 897.1 L808.5 898.9 L810.7 900.8 L812.8 902.7 L814.9 904.6 L817.1 906.5 L819.2 908.3 L821.4 910.2 L823.5 912.1 L825.6 914.0 L827.8 915.8 L829.9 917.7 L832.0 919.6 L834.2 921.5 L836.3 923.4 L838.5 925.2 L840.6 927.1 L842.7 929.0 L844.9 930.9 L847.0 932.8 L849.1 934.7 L851.3 936.5 L853.4 938.4 L855.6 940.3 L857.7 942.2 L859.8 944.1 L862.0 946.0 L864.1 947.8 L866.2 949.7 L868.4 951.6 L870.5 953.5 L872.7 955.4 L874.8 957.3 L876.9 959.1 L879.1 961.0 L881.2 962.9 L883.3 964.8 L885.5 966.7 L887.6 968.6 L888.1 969.0"/>
<path d="M130.9 522.7 L133.0 523.3 L135.2 523.9 L137.3 524.4 L139.5 525.0 L141.6 525.5 L143.7 526.1 L145.9 526.7 L148.0 527.2 L150.1 527.8 L152.3 528.4 L154.4 528.9 L156.6 529.5 L158.7 530.1 L160.8 530.7 L163.0 531.3 L165.1 531.8 L167.2 532.4 L169.4 533.0 L171.5 533.6 L173.7 534.2 L175.8 534.8 L177.9 535.4 L180.1 536.0 L182.2 536.6 L184.3 537.2 L186.5 537.8 L188.6 538.4 L190.8 539.0 L192.9 539.6 L195.0 540.2 L197.2 540.8 L199.3 541.5 L201.4 542.1 L203.6 542.7 L205.7 543.3 L207.9 543.9 L210.0 544.6 L212.1 545.2 L214.3 545.8 L216.4 546.5 L218.5 547.1 L220.7 547.7 L222.8 548.4 L225.0 549.0 L227.1 549.7 L229.2 550.3 L231.4 551.0 L233.5 551.6 L235.6 552.3 L237.8 552.9 L239.9 553.6 L242.1 554.3 L244.2 554.9 L246.3 555.6 L248.5 556.3 L250.6 556.9 L252.7 557.6 L254.9 558.3 L257.0 558.9 L259.2 559.6 L261.3 560.3 L263.4 561.0 L265.6 561.7 L267.7 562.4 L269.8 563.1 L272.0 563.8 L274.1 564.5 L276.3 565.1 L278.4 565.9 L280.5 566.6 L282.7 567.3 L284.8 568.0 L286.9 568.7 L289.1 569.4 L291.2 570.1 L293.4 570.8 L295.5 571.5 L297.6 572.3 L299.8 573.0 L301.9 573.7 L304.0 574.5 L306.2 575.2 L308.3 575.9 L310.5 576.7 L312.6 577.4 L314.7 578.1 L316.9 578.9 L319.0 579.6 L321.1 580.4 L323.3 581.1 L325.4 581.9 L327.6 582.7 L329.7 583.4 L331.8 584.2 L334.0 585.0 L336.1 585.7 L338.2 586.5 L340.4 587.3 L342.5 588.0 L344.7 588.8 L346.8 589.6 L348.9 590.4 L351.1 591.2 L353.2 592.0 L355.4 592.8 L357.5 593.6 L359.6 594.4 L361.8 595.2 L363.9 596.0 L366.0 596.8 L368.2 597.6 L370.3 598.4 L372.5 599.2 L374.6 600.0 L376.7 600.8 L378.9 601.7 L381.0 602.5 L383.1 603.3 L385.3 604.2 L387.4 605.0 L389.6 605.8 L391.7 606.7 L393.8 607.5 L396.0 608.4 L398.1 609.2 L400.2 610.1 L402.4 610.9 L404.5 611.8 L406.7 612.6 L408.8 613.5 L410.9 614.4 L413.1 615.2 L415.2 616.1 L417.3 617.0 L419.5 617.9 L421.6 618.7 L423.8 619.6 L425.9 620.5 L428.0 621.4 L430.2 622.3 L432.3 623.2 L434.4 624.1 L436.6 625.0 L438.7 625.9 L440.9 626.8 L443.0 627.7 L445.1 628.6 L447.3 629.5 L449.4 630.5 L451.5 631.4 L453.7 632.3 L455.8 633.2 L458.0 634.2 L460.1 635.1 L462.2 636.0 L464.4 637.0 L466.5 637.9 L468.6 638.9 L470.8 639.8 L472.9 640.8 L475.1 641.7 L477.2 642.7 L479.3 643.7 L481.5 644.6 L483.6 645.6 L485.7 646.6 L487.9 647.5 L490.0 648.5 L492.2 649.5 L494.3 650.5 L496.4 651.5 L498.6 652.5 L500.7 653.5 L502.8 654.5 L505.0 655.5 L507.1 656.5 L509.3 657.5 L511.4 658.5 L513.5 659.5 L515.7 660.5 L517.8 661.6 L519.9 662.6 L522.1 663.6 L524.2 664.6 L526.4 665.7 L528.5 666.7 L530.6 667.8 L532.8 668.8 L534.9 669.9 L537.0 670.9 L539.2 672.0 L541.3 673.0 L543.5 674.1 L545.6 675.2 L547.7 676.2 L549.9 677.3 L552.0 678.4 L554.1 679.5 L556.3 680.5 L558.4 681.6 L560.6 682.7 L562.7 683.8 L564.8 684.9 L567.0 686.0 L569.1 687.1 L571.3 688.2 L573.4 689.3 L575.5 690.5 L577.7 691.6 L579.8 692.7 L581.9 693.8 L584.1 695.0 L586.2 696.1 L588.4 697.2 L590.5 698.4 L592.6 699.5 L594.8 700.7 L596.9 701.8 L599.0 703.0 L601.2 704.1 L603.3 705.3 L605.5 706.4 L607.6 707.6 L609.7 708.8 L611.9 710.0 L614.0 711.1 L616.1 712.3 L618.3 713.5 L620.4 714.7 L622.6 715.9 L624.7 717.1 L626.8 718.3 L629.0 719.5 L631.1 720.7 L633.2 721.9 L635.4 723.2 L637.5 724.4 L639.7 725.6 L641.8 726.8 L643.9 728.1 L646.1 729.3 L648.2 730.5 L650.3 731.8 L652.5 733.0 L654.6 734.3 L656.8 735.5 L658.9 736.8 L661.0 738.1 L663.2 739.3 L665.3 740.6 L667.4 741.9 L669.6 743.1 L671.7 744.4 L673.9 745.7 L676.0 747.0 L678.1 748.3 L680.3 749.6 L682.4 750.9 L684.5 752.2 L686.7 753.5 L688.8 754.8 L691.0 756.1 L693.1 757.4 L695.2 758.8 L697.4 760.1 L699.5 761.4 L701.6 762.8 L703.8 764.1 L705.9 765.4 L708.1 766.8 L710.2 768.1 L712.3 769.5 L714.5 770.9 L716.6 772.2 L718.7 773.6 L720.9 775.0 L723.0 776.3 L725.2 777.7 L727.3 779.1 L729.4 780.5 L731.6 781.9 L733.7 783.3 L735.8 784.7 L738.0 786.1 L740.1 787.5 L742.3 788.9 L744.4 790.3 L746.5 791.7 L748.7 793.1 L750.8 794.5 L752.9 796.0 L755.1 797.4 L757.2 798.8 L759.4 800.3 L761.5 801.7 L763.6 803.2 L765.8 804.6 L767.9 806.1 L770.0 807.5 L772.2 809.0 L774.3 810.5 L776.5 811.9 L778.6 813.4 L780.7 814.9 L782.9 816.4 L785.0 817.9 L787.2 819.4 L789.3 820.9 L791.4 822.4 L793.6 823.9 L795.7 825.4 L797.8 826.9 L800.0 828.4 L802.1 829.9 L804.3 831.4 L806.4 832.9 L808.5 834.5 L810.7 836.0 L812.8 837.5 L814.9 839.1 L817.1 840.6 L819.2 842.2 L821.4 843.7 L823.5 845.3 L825.6 846.8 L827.8 848.4 L829.9 850.0 L832.0 851.5 L834.2 853.1 L836.3 854.7 L838.5 856.3 L840.6 857.8 L842.7 859.4 L844.9 861.0 L847.0 862.6 L849.1 864.2 L851.3 865.8 L853.4 867.4 L855.6 869.0 L857.7 870.6 L859.8 872.3 L862.0 873.9 L864.1 875.5 L866.2 877.1 L868.4 878.8 L870.5 880.4 L872.7 882.0 L874.8 883.7 L876.9 885.3 L879.1 887.0 L881.2 888.6 L883.3 890.3 L885.5 891.9 L887.6 893.6 L889.8 895.2 L891.9 896.9 L894.0 898.6 L896.2 900.3 L898.3 901.9 L900.4 903.6 L902.6 905.3 L904.7 907.0 L906.9 908.7 L909.0 910.4 L911.1 912.1 L913.3 913.8 L915.4 915.5 L917.5 917.2 L919.7 918.9 L921.8 920.6 L924.0 922.3 L926.1 924.0 L928.2 925.7 L930.4 927.4 L932.5 929.2 L934.6 930.9 L936.8 932.6 L938.9 934.4 L941.1 936.1 L943.2 937.8 L945.3 939.6 L947.5 941.3 L949.6 943.1 L951.7 944.8 L953.9 946.6 L956.0 948.3 L958.2 950.1 L960.3 951.9 L962.4 953.6 L964.6 955.4 L966.7 957.1 L968.8 958.9 L971.0 960.7 L973.1 962.5 L975.3 964.2 L977.4 966.0 L979.5 967.8 L981.0 969.0"/>
</g>
<g>
<text transform="translate(69.9 44.3) scale(1.06 1)" letter-spacing="-0.49">15</text>
<text transform="translate(68.8 195.1) scale(1.06 1)" letter-spacing="-0.42">20</text>
<text transform="translate(68.8 345.9) scale(1.06 1)" letter-spacing="-0.04">25</text>
<text transform="translate(69.9 526.9) scale(1.06 1)" letter-spacing="-0.49">15</text>
<text transform="translate(68.8 677.7) scale(1.06 1)" letter-spacing="-0.42">20</text>
<text transform="translate(68.8 828.5) scale(1.06 1)" letter-spacing="-0.04">25</text>
<text transform="translate(95.9 1008.0) scale(1.06 1)" letter-spacing="-0.36">0.01</text>
<text transform="translate(276.9 1008.0) scale(1.06 1)" letter-spacing="-0.22">0.1</text>
<text transform="translate(463.4 1008.0) scale(1.06 1)">1</text>
<text transform="translate(624.6 1008.0) scale(1.06 1)" letter-spacing="-1.15">10</text>
<text transform="translate(785.8 1008.0) scale(1.06 1)" letter-spacing="-0.88">100</text>
<text transform="translate(350.9 1048.5) scale(1.06 1)" letter-spacing="0.24">projected</text>
<text transform="translate(524.2 1048.5) scale(1.06 1)" letter-spacing="0.59">radius</text>
<text transform="translate(644.1 1048.5) scale(0.95 1)">R</text>
<text transform="translate(682.2 1049.7)" class="b">[</text>
<text transform="translate(694.9 1048.5) scale(1.06 1)" letter-spacing="1.08">kpc</text>
<text transform="translate(754.2 1049.7)" class="b">]</text>
<text transform="translate(212.2 72.8) scale(1.06 1)" letter-spacing="-0.31">n=8</text>
<text transform="translate(233.6 140.7) scale(1.06 1)" letter-spacing="-0.31">n=4</text>
<text transform="translate(255.5 210.8) scale(1.06 1)" letter-spacing="0.66">n=2</text>
<text transform="translate(274.6 308.9) scale(1.06 1)" letter-spacing="0.43">n=1</text>
<text transform="translate(301.3 425.5) scale(1.06 1)" letter-spacing="-0.20">n=0.5</text>
<text transform="translate(211.8 534.4) scale(1.06 1)" letter-spacing="-0.12">n=8</text>
<text transform="translate(233.3 610.4) scale(1.06 1)" letter-spacing="-0.08">n=4</text>
<text transform="translate(255.6 682.9) scale(1.06 1)" letter-spacing="0.42">n=2</text>
<text transform="translate(274.5 787.8) scale(1.06 1)" letter-spacing="0.53">n=1</text>
<text transform="translate(301.1 908.9) scale(1.06 1)" letter-spacing="-0.08">n=0.5</text>
<text transform="translate(35.0 424.0) rotate(-90) scale(1.29 1)" class="i">μ</text>
<text transform="translate(47.2 400.6) rotate(-90)" class="s">B</text>
<text transform="translate(36.5 384.3) rotate(-90)" class="p">(</text>
<text transform="translate(35.0 371.7) rotate(-90) scale(0.95 1)">R</text>
<text transform="translate(36.5 348.9) rotate(-90)" class="p">)</text>
<text transform="translate(36.5 320.1) rotate(-90)" class="b">[</text>
<text transform="translate(35.0 306.4) rotate(-90) scale(1.06 1)" letter-spacing="0.12">mag</text>
<text transform="translate(35.0 220.3) rotate(-90) scale(1.06 1)" letter-spacing="0.55">arcsec</text>
<text transform="translate(20.3 111.8) rotate(-90) scale(1.06 1)" class="s" letter-spacing="-1.04">−2</text>
<text transform="translate(36.5 78.8) rotate(-90)" class="b">]</text>
<text transform="translate(36.6 931.6) rotate(-90) scale(0.94 1.24)" class="a">&lt;</text>
<text transform="translate(35.0 908.0) rotate(-90) scale(1.29 1)" class="i">μ</text>
<text transform="translate(36.6 885.8) rotate(-90) scale(0.94 1.24)" class="a">&gt;</text>
<text transform="translate(47.2 861.7) rotate(-90)" class="s">B</text>
<text transform="translate(36.5 845.0) rotate(-90)" class="p">(</text>
<text transform="translate(35.0 832.4) rotate(-90) scale(0.95 1)">R</text>
<text transform="translate(36.5 809.6) rotate(-90)" class="p">)</text>
<text transform="translate(36.5 780.8) rotate(-90)" class="b">[</text>
<text transform="translate(35.0 767.1) rotate(-90) scale(1.06 1)" letter-spacing="0.12">mag</text>
<text transform="translate(35.0 681.0) rotate(-90) scale(1.06 1)" letter-spacing="0.55">arcsec</text>
<text transform="translate(20.3 572.5) rotate(-90) scale(1.06 1)" class="s" letter-spacing="-1.04">−2</text>
<text transform="translate(36.5 539.5) rotate(-90)" class="b">]</text>
</g>
</svg>
</body></html>
